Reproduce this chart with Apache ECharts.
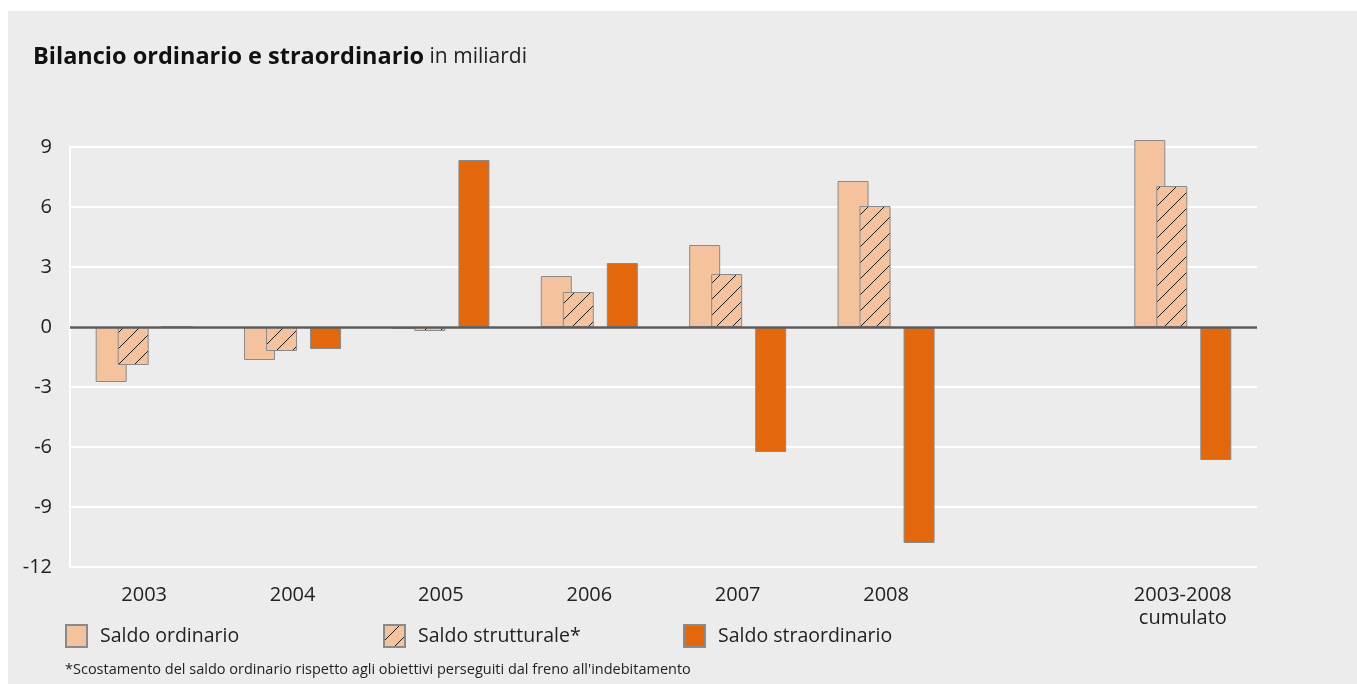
<!DOCTYPE html>
<html>
<head>
<meta charset="utf-8">
<script src="https://cdn.jsdelivr.net/npm/echarts@6/dist/echarts.min.js"></script>
<style>
  html, body { margin: 0; padding: 0; background: #ffffff; width: 1357px; height: 684px; overflow: hidden; }
  #chart { position: absolute; left: 8px; top: 11px; width: 1349px; height: 673px; background: #ebeceb; }
</style>
</head>
<body>
<div id="chart"></div>
<script>
// ---- data ----
const categories = ['2003', '2004', '2005', '2006', '2007', '2008', '', '2003-2008\ncumulato'];
const saldoOrdinario = [-2.75, -1.65, -0.1, 2.55, 4.1, 7.3, null, 9.35];
const saldoStrutturale = [-1.9, -1.2, -0.2, 1.75, 2.65, 6.05, null, 7.05];
const saldoStraordinario = [0, -1.1, 8.35, 3.2, -6.25, -10.8, null, -6.65];
const spacer = [null, null, null, null, null, null, null, null];
const yMin = -12, yMax = 9, yStep = 3;
const seriesNames = ['Saldo ordinario', 'Saldo strutturale*', 'Saldo straordinario'];

const FONT = '"Open Sans", "DejaVu Sans", sans-serif';
const PEACH = '#f4c39d';
const ORANGE = '#e3670c';
const BORDER = '#8a8a8a';

// hatch pattern
function makeHatch() {
  const c = document.createElement('canvas');
  const s = 16;
  c.width = s; c.height = s;
  const ctx = c.getContext('2d');
  ctx.fillStyle = PEACH;
  ctx.fillRect(0, 0, s, s);
  ctx.strokeStyle = '#1a1a1a';
  ctx.lineWidth = 1;
  ctx.beginPath();
  ctx.moveTo(-2, s + 2); ctx.lineTo(s + 2, -2);
  ctx.moveTo(-2, 2); ctx.lineTo(2, -2);
  ctx.moveTo(s - 2, s + 2); ctx.lineTo(s + 2, s - 2);
  ctx.stroke();
  return c;
}
const hatch = makeHatch();

const chart = echarts.init(document.getElementById('chart'), null, { renderer: 'canvas' });

const barCommon = {
  type: 'bar',
  barWidth: 31,
  barGap: '-29%',
  clip: false
};

const legendCommon = {
  orient: 'horizontal',
  top: 613,
  padding: 0,
  itemWidth: 21,
  itemHeight: 22,
  icon: 'rect',
  selectedMode: false,
  textStyle: { fontFamily: FONT, fontSize: 19.5, color: '#222', padding: [0, 0, 0, 8] }
};

chart.setOption({
  animation: false,
  backgroundColor: '#ebeceb',
  title: {
    left: 20,
    top: 29,
    text: '{b|Bilancio ordinario e straordinario}{n| in miliardi}',
    textStyle: {
      rich: {
        b: { fontFamily: FONT, fontSize: 23.5, fontWeight: 'bold', color: '#111' },
        n: { fontFamily: FONT, fontSize: 21, fontWeight: 'normal', color: '#222' }
      }
    }
  },
  legend: [
    Object.assign({}, legendCommon, { left: 57, data: [seriesNames[0]] }),
    Object.assign({}, legendCommon, { left: 375, data: [seriesNames[1]] }),
    Object.assign({}, legendCommon, { left: 675, data: [seriesNames[2]] })
  ],
  grid: { left: 62, right: 100, top: 136, bottom: 117, containLabel: false },
  xAxis: {
    type: 'category',
    data: categories,
    axisLine: { show: false },
    axisTick: { show: false },
    axisLabel: {
      interval: 0,
      margin: 17,
      fontFamily: FONT,
      fontSize: 20,
      lineHeight: 23,
      color: '#222'
    },
    splitLine: { show: false }
  },
  yAxis: {
    type: 'value',
    min: yMin,
    max: yMax,
    interval: yStep,
    axisLine: { show: true, lineStyle: { color: '#ffffff', width: 2 } },
    axisTick: { show: false },
    axisLabel: {
      margin: 18,
      fontFamily: FONT,
      fontSize: 20,
      color: '#222',
      padding: [16, 0, 0, 0]
    },
    splitLine: { show: true, lineStyle: { color: '#ffffff', width: 2 } }
  },
  series: [
    Object.assign({}, barCommon, {
      name: seriesNames[0],
      data: saldoOrdinario,
      itemStyle: { color: PEACH, borderColor: BORDER, borderWidth: 1 }
    }),
    Object.assign({}, barCommon, {
      name: seriesNames[1],
      data: saldoStrutturale,
      itemStyle: { color: { image: hatch, repeat: 'repeat' }, borderColor: BORDER, borderWidth: 1 }
    }),
    Object.assign({}, barCommon, {
      name: 'spacer',
      data: spacer,
      itemStyle: { color: 'transparent' }
    }),
    Object.assign({}, barCommon, {
      name: seriesNames[2],
      data: saldoStraordinario,
      itemStyle: { color: ORANGE, borderColor: BORDER, borderWidth: 1 },
      markLine: {
        silent: true,
        symbol: ['none', 'none'],
        label: { show: false },
        lineStyle: { color: '#5c5c5c', width: 2.5, type: 'solid' },
        data: [{ yAxis: 0 }]
      }
    })
  ],
  graphic: [
    {
      type: 'text',
      left: 57,
      top: 651,
      style: {
        text: "*Scostamento del saldo ordinario rispetto agli obiettivi perseguiti dal freno all'indebitamento",
        fontFamily: FONT,
        fontSize: 14.5,
        fill: '#222'
      }
    }
  ]
});
</script>
</body>
</html>
